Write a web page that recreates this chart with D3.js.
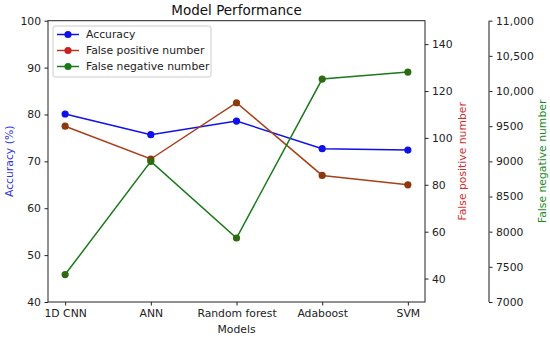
<!DOCTYPE html>
<html><head><meta charset="utf-8">
<script src="https://cdn.jsdelivr.net/npm/d3@7"></script>
<style>body{margin:0;background:#fff}svg{font-family:"DejaVu Sans",sans-serif}</style>
</head><body><svg id="c" width="550" height="339"></svg>
<script>
const models = ["1D CNN","ANN","Random forest","Adaboost","SVM"];
const accuracy = [80.1, 75.7, 78.6, 72.7, 72.4];
const falsePositive = [105, 91, 115, 84, 80];
const falseNegative = [7390, 9000, 7910, 10170, 10270];
const accTicks = [40,50,60,70,80,90,100];
const fpTicks = [40,60,80,100,120,140];
const fnTicks = [7000,7500,8000,8500,9000,9500,10000,10500,11000];
const fnTickLabels = ["7000","7500","8000","8500","9000","9500","10,000","10,500","11,000"];

const svg = d3.select("#c");
const L=48, R=425, T=20.7, B=302;
const x = d3.scalePoint().domain(models).range([L,R]).padding(0.2);
const yA = d3.scaleLinear().domain([40,100]).range([B,T]);
const yP = d3.scaleLinear().domain([30,150]).range([B,T]);
const yN = d3.scaleLinear().domain([7000,11000]).range([B,T]);
const fs = 10.8;

// frame
svg.append("rect").attr("x",L).attr("y",T).attr("width",R-L).attr("height",B-T)
  .attr("fill","none").attr("stroke","#222").attr("stroke-width",1);

function styleAxis(g){
  g.select(".domain").remove();
  g.selectAll("text").attr("font-size",fs).attr("fill","#222").attr("font-family","DejaVu Sans");
  g.selectAll("line").attr("stroke","#222");
}
svg.append("g").attr("transform",`translate(${L},0)`)
  .call(d3.axisLeft(yA).tickValues(accTicks).tickSize(3.5).tickPadding(3.5)).call(styleAxis);
svg.append("g").attr("transform",`translate(0,${B})`)
  .call(d3.axisBottom(x).tickSize(3.5).tickPadding(3.5)).call(styleAxis);
svg.append("g").attr("transform",`translate(${R},0)`)
  .call(d3.axisRight(yP).tickValues(fpTicks).tickSize(3.5).tickPadding(3.5)).call(styleAxis);
const NX=489;
const gN = svg.append("g").attr("transform",`translate(${NX},0)`)
  .call(d3.axisRight(yN).tickValues(fnTicks).tickFormat((d,i)=>fnTickLabels[i]).tickSize(3.5).tickPadding(3.5)).call(styleAxis);
svg.append("line").attr("x1",NX).attr("x2",NX).attr("y1",T).attr("y2",B).attr("stroke","#666").attr("stroke-width",1.5);

// series
const series = [
  {name:"Accuracy", vals:accuracy, y:yA, line:"#1010e8", mark:"#1010e8", lm:"#1010e8"},
  {name:"False positive number", vals:falsePositive, y:yP, line:"#a8401a", mark:"#8a3a0c", lm:"#cc2020"},
  {name:"False negative number", vals:falseNegative, y:yN, line:"#1c7a1c", mark:"#2d6a10", lm:"#1a7a1a"}
];
series.forEach(s=>{
  const line = d3.line().x((d,i)=>x(models[i])).y(d=>s.y(d));
  svg.append("path").attr("d",line(s.vals)).attr("fill","none").attr("stroke",s.line).attr("stroke-width",1.5);
  svg.append("g").selectAll("circle").data(s.vals).join("circle")
    .attr("cx",(d,i)=>x(models[i])).attr("cy",d=>s.y(d)).attr("r",3.6).attr("fill",s.mark);
});

// legend
const lg = svg.append("g");
lg.append("rect").attr("x",53).attr("y",26).attr("width",158).attr("height",51).attr("rx",2)
  .attr("fill","#fff").attr("fill-opacity",0.8).attr("stroke","#ccc");
series.forEach((s,i)=>{
  const yy = 34.5+i*16;
  lg.append("line").attr("x1",57).attr("x2",79).attr("y1",yy).attr("y2",yy).attr("stroke",s.line).attr("stroke-width",1.5);
  lg.append("circle").attr("cx",68).attr("cy",yy).attr("r",3.6).attr("fill",s.lm);
  lg.append("text").attr("x",86).attr("y",yy).attr("dy","0.35em").attr("font-size",fs).attr("fill","#222").text(s.name);
});

// titles
svg.append("text").attr("x",(L+R)/2).attr("y",15).attr("text-anchor","middle").attr("font-size",13.5).attr("fill","#111").text("Model Performance");
svg.append("text").attr("x",(L+R)/2).attr("y",333).attr("text-anchor","middle").attr("font-size",fs).attr("fill","#222").text("Models");
svg.append("text").attr("transform",`translate(13,${(T+B)/2}) rotate(-90)`).attr("text-anchor","middle").attr("font-size",fs).attr("fill","#3030e0").text("Accuracy (%)");
svg.append("text").attr("transform",`translate(466,${(T+B)/2}) rotate(-90)`).attr("text-anchor","middle").attr("font-size",fs).attr("fill","#d03030").text("False positive number");
svg.append("text").attr("transform",`translate(546,${(T+B)/2}) rotate(-90)`).attr("text-anchor","middle").attr("font-size",fs).attr("fill","#1a8a1a").text("False negative number");
</script></body></html>
